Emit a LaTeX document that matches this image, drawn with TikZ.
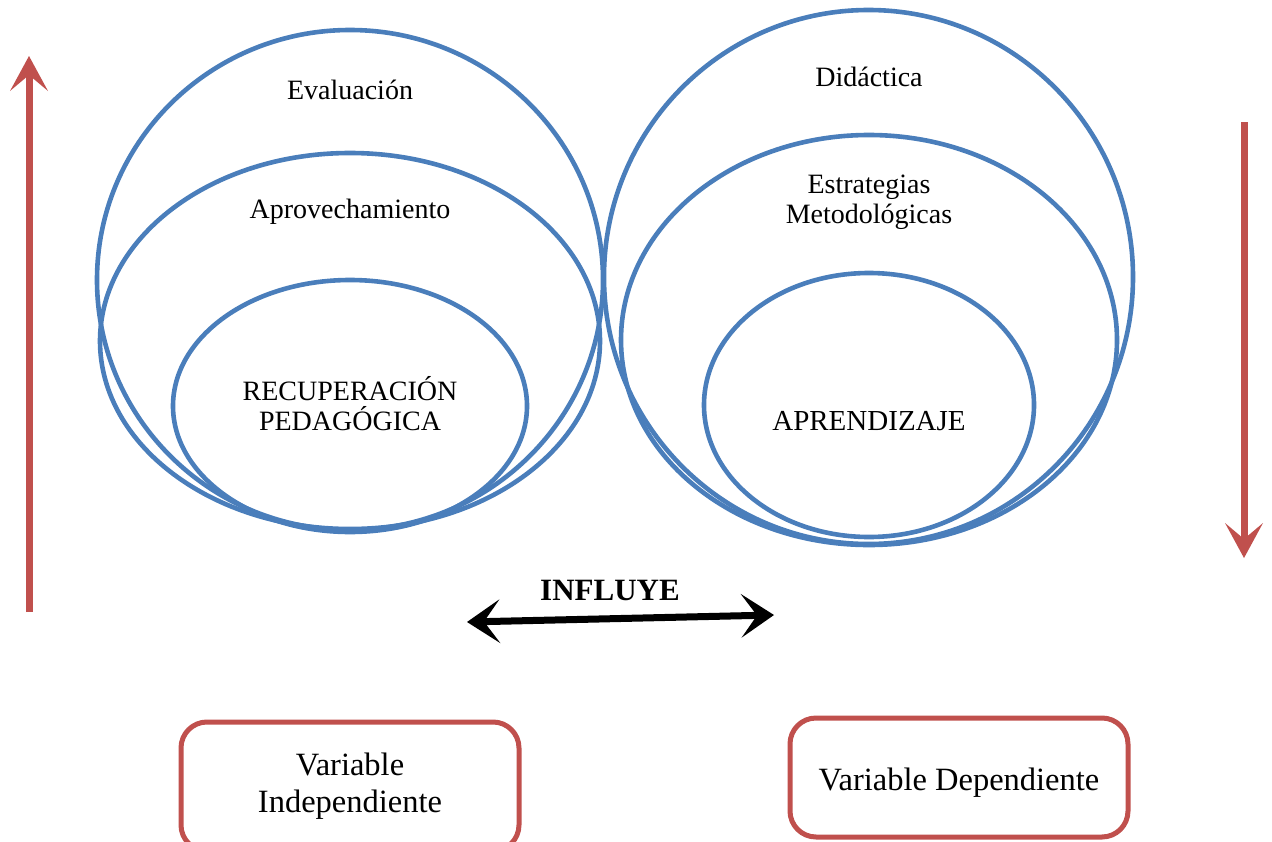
\documentclass[tikz,border=0pt]{standalone}
\usepackage{fontspec}
\setmainfont{Liberation Serif}
\usetikzlibrary{shapes.geometric,arrows.meta}
\definecolor{ovalblue}{HTML}{4A7EBB}
\definecolor{varred}{HTML}{C0504D}
\begin{document}
\begin{tikzpicture}[x=1pt,y=-1pt,
  oval/.style={ellipse, draw=ovalblue, line width=4.6pt, inner sep=0pt, outer sep=0pt},
  lbl/.style={font=\fontsize{28}{30}\selectfont, align=center, inner sep=0pt},
  varbox/.style={draw=varred, line width=5pt, rounded corners=26pt, inner sep=0pt,
    font=\fontsize{32.5}{37}\selectfont, align=center},
  redarrow/.style={draw=varred, line width=7pt,
    -{Stealth[length=35pt,width=38pt,inset=16pt,line width=0pt]}},
  infarrow/.style={draw=black, line width=7pt,
    {Stealth[length=33pt,width=44pt,inset=16pt,line width=0pt]}-{Stealth[length=33pt,width=44pt,inset=16pt,line width=0pt]}}
]
\useasboundingbox (0,0) rectangle (1272,841);
\clip (0,0) rectangle (1272,841);

% left group
\node[oval, minimum width=506pt, minimum height=500pt] (evalO) at (350,280) {};
\node[oval, minimum width=500pt, minimum height=376pt] (aprovO) at (350,341) {};
\node[oval, minimum width=354pt, minimum height=252pt] (recupO) at (350,406) {};
\node[lbl] (evalT) at (350,90) {Evaluación};
\node[lbl] (aprovT) at (350,212) {Aprovechamiento};
\node[lbl] (recupT) at (350,404) {RECUPERACIÓN\\PEDAGÓGICA};

% right group
\node[oval, minimum width=529pt, minimum height=534pt] (didO) at (868.5,277) {};
\node[oval, minimum width=496pt, minimum height=410pt] (estrO) at (869,340) {};
\node[oval, minimum width=330pt, minimum height=264pt] (aprO) at (869,405) {};
\node[lbl] (didT) at (869,77) {Didáctica};
\node[lbl] (estrT) at (869,202) {Estrategias\\Metodológicas};
\node[lbl, font=\fontsize{29}{30}\selectfont] (aprT) at (869,421) {APRENDIZAJE};

% red arrows
\coordinate (upS) at (29,612);
\coordinate (upE) at (29,56);
\draw[redarrow] (upS) -- (upE);
\coordinate (dnS) at (1244,122);
\coordinate (dnE) at (1244,558);
\draw[redarrow] (dnS) -- (dnE);

% influye
\node[font=\fontsize{31}{33}\selectfont\bfseries, inner sep=0pt] (infT) at (610,590) {INFLUYE};
\coordinate (inL) at (467,622);
\coordinate (inR) at (774,615);
\draw[infarrow] (inL) -- (inR);

% variable boxes
\node[varbox, minimum width=338pt, minimum height=129pt] (vInd) at (350,786.5) {Variable\\Independiente};
\node[varbox, minimum width=338pt, minimum height=119pt, text height=32pt, text depth=7pt] (vDep) at (959,777.5) {Variable Dependiente};
\end{tikzpicture}
\end{document}
